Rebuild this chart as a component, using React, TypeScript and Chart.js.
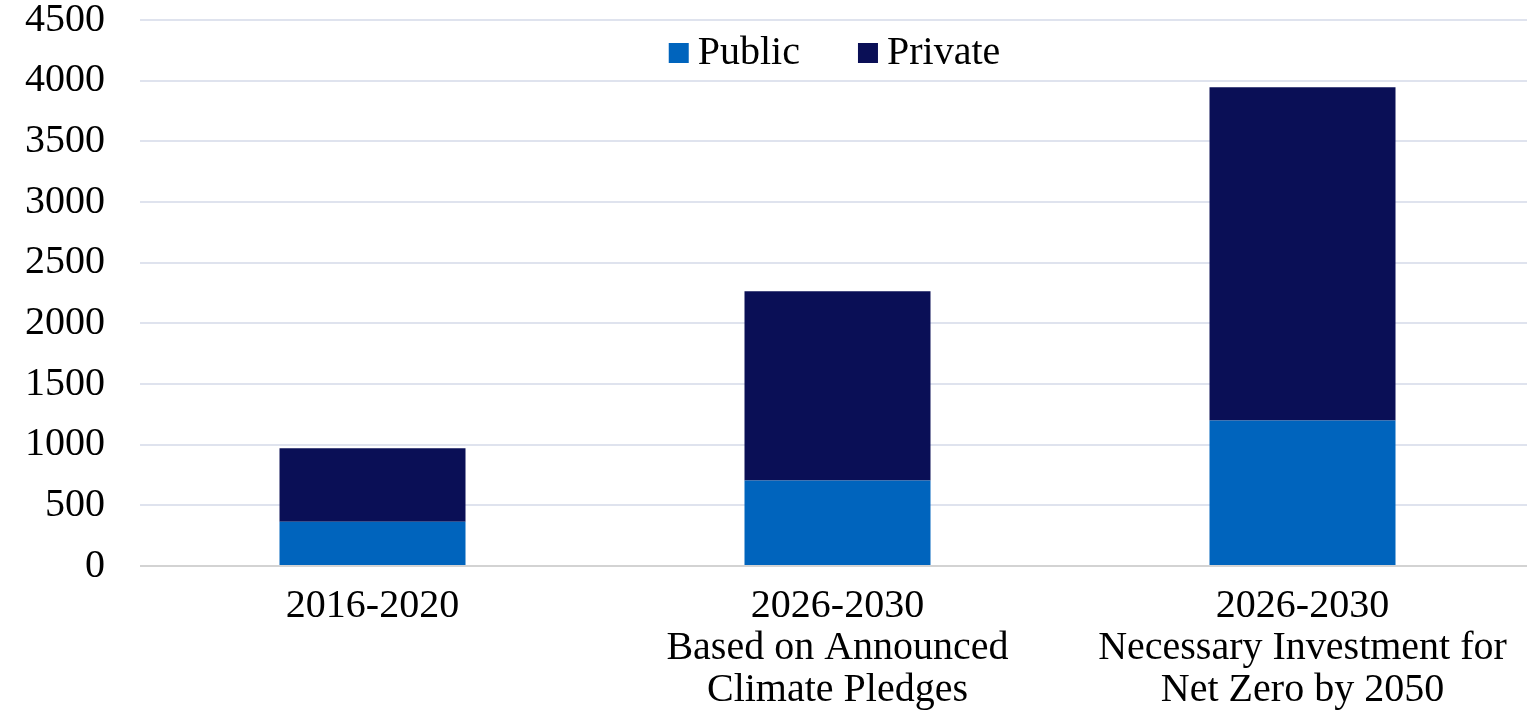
import React, { useEffect, useRef } from "react";
import { Chart, registerables } from "chart.js";

Chart.register(...registerables);

const categories: string[][] = [
  ["2016-2020"],
  ["2026-2030", "Based on Announced", "Climate Pledges"],
  ["2026-2030", "Necessary Investment for", "Net Zero by 2050"],
];
const publicValues = [365, 705, 1200];
const privateValues = [605, 1560, 2745];
const yTicks = [0, 500, 1000, 1500, 2000, 2500, 3000, 3500, 4000, 4500];

const FONT = "'Liberation Serif', 'Times New Roman', serif";

const legendPlugin = {
  id: "innerLegend",
  afterDraw(chart: any) {
    const ctx = chart.ctx;
    const area = chart.chartArea;
    const size = 40;
    const box = 20;
    const gapText = 9;
    const gapItem = 58;
    ctx.save();
    ctx.font = `${size}px ${FONT}`;
    const items = chart.data.datasets.map((d: any) => ({
      label: d.label,
      color: d.backgroundColor,
      w: box + gapText + ctx.measureText(d.label).width,
    }));
    const total =
      items.reduce((s: number, it: any) => s + it.w, 0) + gapItem * (items.length - 1);
    let x = (area.left + area.right) / 2 - total / 2 - 3;
    const baseline = area.top + 44;
    items.forEach((it: any) => {
      ctx.fillStyle = it.color;
      ctx.fillRect(x, baseline - 21, box, box);
      ctx.fillStyle = "#000";
      ctx.textBaseline = "alphabetic";
      ctx.textAlign = "left";
      ctx.fillText(it.label, x + box + gapText, baseline);
      x += it.w + gapItem;
    });
    ctx.restore();
  },
};

export default function App() {
  const ref = useRef<HTMLCanvasElement | null>(null);

  useEffect(() => {
    document.body.style.margin = "0";
    if (!ref.current) return;
    const chart = new Chart(ref.current, {
      type: "bar",
      data: {
        labels: categories,
        datasets: [
          {
            label: "Public",
            data: publicValues,
            backgroundColor: "#0064BD",
            barPercentage: 0.4,
            categoryPercentage: 1,
          },
          {
            label: "Private",
            data: privateValues,
            backgroundColor: "#0A0F56",
            barPercentage: 0.4,
            categoryPercentage: 1,
          },
        ],
      },
      options: {
        animation: false,
        responsive: true,
        maintainAspectRatio: false,
        layout: { padding: 0 },
        plugins: {
          legend: { display: false },
          tooltip: { enabled: false },
        },
        scales: {
          x: {
            stacked: true,
            grid: { display: false },
            border: { display: false },
            afterFit(scale: any) {
              scale.height = 150;
            },
            ticks: {
              color: "#000",
              padding: 12,
              maxRotation: 0,
              autoSkip: false,
              font: { family: FONT, size: 40, lineHeight: 1.04 },
            },
          },
          y: {
            stacked: true,
            min: 0,
            max: 4500,
            afterFit(scale: any) {
              scale.width = 140;
              scale.paddingTop = 20;
              scale.paddingBottom = 0;
            },
            afterBuildTicks(scale: any) {
              scale.ticks = yTicks.map((v) => ({ value: v }));
            },
            border: { display: false },
            grid: {
              drawTicks: false,
              lineWidth: 2,
              color: (c: any) => (c.tick && c.tick.value === 0 ? "#D3D3D3" : "#DFE3EE"),
            },
            ticks: {
              color: "#000",
              padding: 35,
              callback: (v: any) => String(v),
              font: { family: FONT, size: 40, lineHeight: 1.05 },
            },
          },
        },
      },
      plugins: [legendPlugin],
    });
    return () => chart.destroy();
  }, []);

  return (
    <div style={{ width: 1527, height: 716, overflow: "hidden" }}>
      <div style={{ width: 1535, height: 716, position: "relative" }}>
        <canvas ref={ref} />
      </div>
    </div>
  );
}
